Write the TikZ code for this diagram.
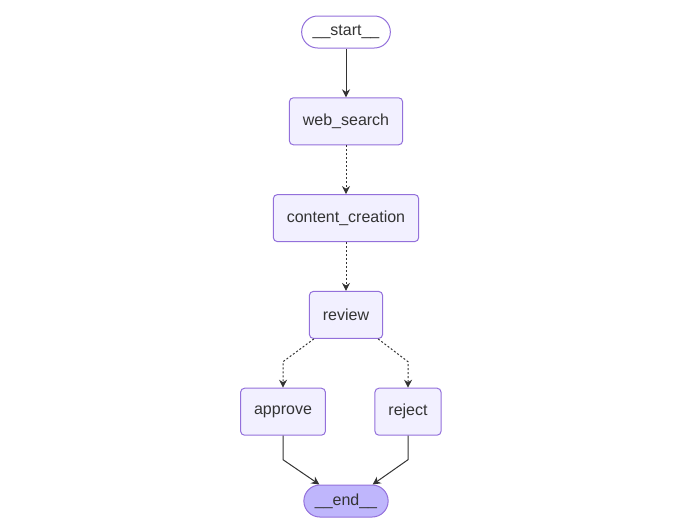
\documentclass[tikz,border=0pt]{standalone}
\usepackage{fontspec}
\setmainfont{Liberation Sans}
\usepackage{xcolor}
\usepackage{tikz}
\usetikzlibrary{arrows.meta, positioning}
\definecolor{nodefill}{HTML}{F2F0FF}
\definecolor{nodeline}{HTML}{9370DB}
\definecolor{endfill}{HTML}{BFB6FC}
\definecolor{edgeline}{HTML}{333333}

\begin{document}
\begin{tikzpicture}[
    stepbox/.style={draw=nodeline, fill=#1, line width=1pt, rounded corners=4pt, minimum height=47pt, inner xsep=13.5pt, font=\fontsize{16pt}{19pt}\selectfont, text=edgeline},
    stepbox/.default=nodefill,
    terminal/.style={draw=nodeline, fill=#1, line width=1pt, rounded corners=16pt, minimum height=32pt, inner xsep=11pt, font=\fontsize{16pt}{19pt}\selectfont, text=edgeline},
    terminal/.default=white,
    flow/.style={-{Stealth[length=8pt, width=8pt]}, line width=1pt, draw=edgeline},
    cond/.style={flow, dash pattern=on 2pt off 2pt},
    node distance=48.8pt,
]
\useasboundingbox (0,0) rectangle (700pt,-528pt);

\node[terminal] (start) at (346pt,-32pt) {\_\_start\_\_};
\node[stepbox, below=of start] (websearch) {web\_search};
\node[stepbox, below=of websearch] (content) {content\_creation};
\node[stepbox, below=of content] (review) {review};
\node[stepbox, below=of review, xshift=-63pt] (approve) {approve};
\node[stepbox, below=of review, xshift=62pt] (reject) {reject};
\node[terminal=endfill, below=48.8pt of review |- approve.south] (end) {\_\_end\_\_};

% Arrows
\draw[flow] (start) -- (websearch);
\draw[cond] (websearch) -- (content);
\draw[cond] (content) -- (review);
\draw[cond] ([xshift=5pt]review.south west) -- ([yshift=26pt]approve.north) -- (approve.north);
\draw[cond] ([xshift=-5pt]review.south east) -- ([yshift=26pt]reject.north) -- (reject.north);
\draw[flow] (approve.south) -- ([yshift=-24pt]approve.south) -- ([xshift=16pt]end.north west);
\draw[flow] (reject.south) -- ([yshift=-24pt]reject.south) -- ([xshift=-16pt]end.north east);

\end{tikzpicture}
\end{document}
